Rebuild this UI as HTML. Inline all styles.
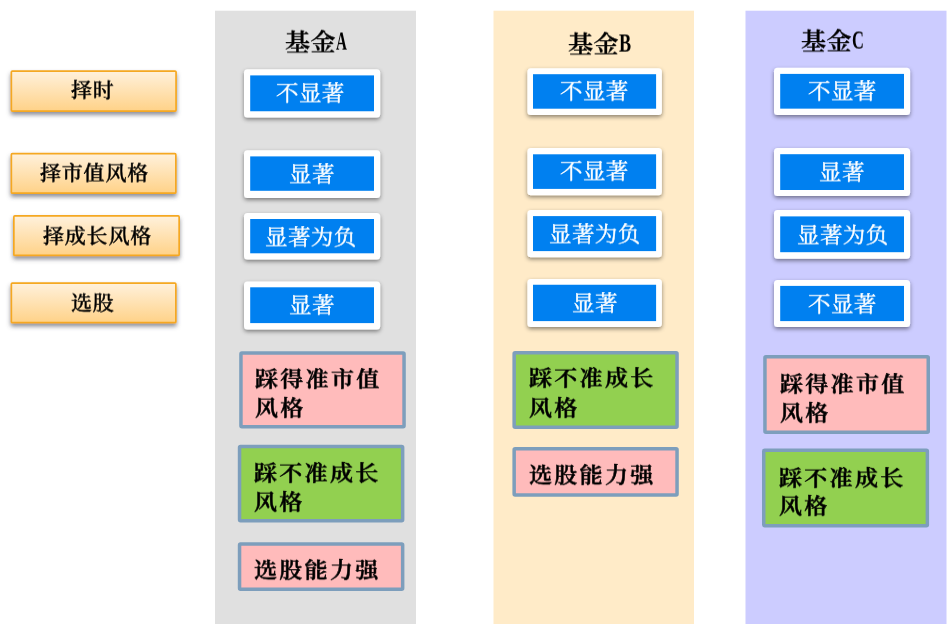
<!DOCTYPE html>
<html lang="zh-CN">
<head>
<meta charset="utf-8">
<title>基金能力对比</title>
<style>
html,body{margin:0;padding:0;background:#fff;}
body{width:948px;height:624px;position:relative;overflow:hidden;font-family:"Liberation Serif","Noto Serif CJK SC",serif;}
.shapes{position:absolute;left:0;top:0;display:block;}
.t{position:absolute;white-space:nowrap;line-height:1;color:#000;will-change:transform;}
.title{font-size:25px;font-weight:600;-webkit-text-stroke:.35px #000;letter-spacing:.4px;transform:scaleY(.95);}
.title .lt{display:inline-block;font-size:27.5px;font-weight:700;-webkit-text-stroke:0;position:relative;top:-1px;transform-origin:0 50%;font-family:"Liberation Serif",serif;vertical-align:baseline;}
.lt2{font-size:21px;font-weight:500;letter-spacing:.8px;-webkit-text-stroke:.45px #000;transform:scaleY(.95);}
.bt{font-size:22.5px;font-weight:400;color:#fff;letter-spacing:.4px;-webkit-text-stroke:.4px #fff;transform:scaleY(.93);}
.rt{font-size:23px;font-weight:600;letter-spacing:2.3px;-webkit-text-stroke:.55px #000;transform:scaleY(.93);}
</style>
</head>
<body>
<svg class="shapes" width="948" height="624" viewBox="0 0 948 624">
<defs>
<linearGradient id="og" x1="0" y1="0" x2="0" y2="1"><stop offset="0" stop-color="#fff1dc"/><stop offset="1" stop-color="#ffd288"/></linearGradient>
<filter id="s1" x="-10%" y="-30%" width="120%" height="180%"><feDropShadow dx="0" dy="3" stdDeviation="2.2" flood-color="#4b505c" flood-opacity=".62"/></filter>
<filter id="s2" x="-10%" y="-30%" width="120%" height="180%"><feDropShadow dx="0" dy="2" stdDeviation="2" flood-color="#000" flood-opacity=".45"/></filter>
</defs>
<rect x="215" y="10.7" width="201" height="620" fill="#e0e0e0"/>
<rect x="493.5" y="10.7" width="200.5" height="620" fill="#ffebc8"/>
<rect x="745.5" y="10.7" width="201" height="620" fill="#ccccff"/>
<rect x="11.35" y="71.05" width="164.70" height="40.00" rx="1" fill="url(#og)" stroke="#f5a822" stroke-width="1.7" filter="url(#s1)"/>
<rect x="11.35" y="153.65" width="164.50" height="39.50" rx="1" fill="url(#og)" stroke="#f5a822" stroke-width="1.7" filter="url(#s1)"/>
<rect x="13.85" y="215.95" width="165.30" height="39.50" rx="1" fill="url(#og)" stroke="#f5a822" stroke-width="1.7" filter="url(#s1)"/>
<rect x="11.35" y="283.05" width="164.50" height="39.60" rx="1" fill="url(#og)" stroke="#f5a822" stroke-width="1.7" filter="url(#s1)"/>
<rect x="244" y="69.2" width="136.20" height="48.40" rx="3.5" fill="#fff" filter="url(#s2)"/>
<rect x="250.2" y="75.4" width="123.80" height="35.85" fill="#0080f0"/>
<rect x="244" y="150.2" width="136.20" height="47.70" rx="3.5" fill="#fff" filter="url(#s2)"/>
<rect x="250.2" y="156.4" width="123.80" height="34.40" fill="#0080f0"/>
<rect x="244" y="212.9" width="136.20" height="46.70" rx="3.5" fill="#fff" filter="url(#s2)"/>
<rect x="250.2" y="219" width="123.80" height="34.30" fill="#0080f0"/>
<rect x="244" y="281.5" width="136.20" height="47.90" rx="3.5" fill="#fff" filter="url(#s2)"/>
<rect x="250.2" y="287.3" width="123.80" height="35.80" fill="#0080f0"/>
<rect x="527.4" y="68.2" width="134.50" height="46.70" rx="3.5" fill="#fff" filter="url(#s2)"/>
<rect x="533" y="74.2" width="123.10" height="34.50" fill="#0080f0"/>
<rect x="527.4" y="148" width="134.50" height="47.20" rx="3.5" fill="#fff" filter="url(#s2)"/>
<rect x="533" y="154.3" width="123.10" height="34.60" fill="#0080f0"/>
<rect x="527.4" y="210.1" width="134.50" height="47.10" rx="3.5" fill="#fff" filter="url(#s2)"/>
<rect x="533" y="216.1" width="123.10" height="35.00" fill="#0080f0"/>
<rect x="527.4" y="278.9" width="134.50" height="48.20" rx="3.5" fill="#fff" filter="url(#s2)"/>
<rect x="533" y="284.75" width="123.10" height="36.35" fill="#0080f0"/>
<rect x="774" y="67.85" width="136.10" height="47.05" rx="3.5" fill="#fff" filter="url(#s2)"/>
<rect x="780.2" y="73.9" width="123.80" height="34.75" fill="#0080f0"/>
<rect x="774" y="148.1" width="136.10" height="48.00" rx="3.5" fill="#fff" filter="url(#s2)"/>
<rect x="780.2" y="154.2" width="123.80" height="35.80" fill="#0080f0"/>
<rect x="774" y="210.1" width="136.10" height="48.60" rx="3.5" fill="#fff" filter="url(#s2)"/>
<rect x="780.2" y="216.4" width="123.80" height="35.80" fill="#0080f0"/>
<rect x="774" y="280" width="136.10" height="47.10" rx="3.5" fill="#fff" filter="url(#s2)"/>
<rect x="780.2" y="285.9" width="123.80" height="35.20" fill="#0080f0"/>
<rect x="240.95" y="353.05" width="163.10" height="73.80" rx="1" fill="#ffbbbb" stroke="#7d9ebc" stroke-width="3.5"/>
<rect x="239.55" y="446.45" width="163.10" height="74.30" rx="1" fill="#92d050" stroke="#7d9ebc" stroke-width="3.5"/>
<rect x="239.55" y="544.05" width="163.10" height="45.30" rx="1" fill="#ffbbbb" stroke="#7d9ebc" stroke-width="3.5"/>
<rect x="514.15" y="352.65" width="162.90" height="74.70" rx="1" fill="#92d050" stroke="#7d9ebc" stroke-width="3.5"/>
<rect x="514.15" y="448.85" width="162.90" height="46.10" rx="1" fill="#ffbbbb" stroke="#7d9ebc" stroke-width="3.5"/>
<rect x="764.95" y="356.75" width="163.30" height="75.40" rx="1" fill="#ffbbbb" stroke="#7d9ebc" stroke-width="3.5"/>
<rect x="763.75" y="450.25" width="163.60" height="75.60" rx="1" fill="#92d050" stroke="#7d9ebc" stroke-width="3.5"/>
</svg>
<div id="tA" class="t title" style="left:284.90px;top:27.80px">基金<span class="lt" style="transform:scaleX(0.55)">A</span></div>
<div id="tB" class="t title" style="left:568.10px;top:29.70px">基金<span class="lt" style="transform:scaleX(0.66)">B</span></div>
<div id="tC" class="t title" style="left:801.07px;top:27.10px">基金<span class="lt" style="transform:scaleX(0.6)">C</span></div>
<div id="l1" class="t lt2" style="left:71.20px;top:80.30px">择时</div>
<div id="l2" class="t lt2" style="left:39.70px;top:163.30px">择市值风格</div>
<div id="l3" class="t lt2" style="left:43.40px;top:225.60px">择成长风格</div>
<div id="l4" class="t lt2" style="left:70.80px;top:292.68px">选股</div>
<div id="A1" class="t bt" style="left:276.40px;top:83.07px">不显著</div>
<div id="A2" class="t bt" style="left:288.50px;top:164.20px">显著</div>
<div id="A3" class="t bt" style="left:264.95px;top:226.80px">显著为负</div>
<div id="A4" class="t bt" style="left:288.50px;top:295.07px">显著</div>
<div id="B1" class="t bt" style="left:559.80px;top:81.12px">不显著</div>
<div id="B2" class="t bt" style="left:559.80px;top:161.40px">不显著</div>
<div id="B3" class="t bt" style="left:548.80px;top:223.92px">显著为负</div>
<div id="B4" class="t bt" style="left:571.80px;top:293.30px">显著</div>
<div id="C1" class="t bt" style="left:807.90px;top:81.12px">不显著</div>
<div id="C2" class="t bt" style="left:818.70px;top:162.17px">显著</div>
<div id="C3" class="t bt" style="left:796.60px;top:224.60px">显著为负</div>
<div id="C4" class="t bt" style="left:807.90px;top:294.20px">不显著</div>
<div id="RA1_0" class="t rt" style="left:254.80px;top:368.10px">踩得准市值</div>
<div id="RA1_1" class="t rt" style="left:254.80px;top:396.88px">风格</div>
<div id="RA2_0" class="t rt" style="left:254.00px;top:461.90px">踩不准成长</div>
<div id="RA2_1" class="t rt" style="left:253.90px;top:491.00px">风格</div>
<div id="RA3_0" class="t rt" style="left:253.60px;top:559.40px">选股能力强</div>
<div id="RB1_0" class="t rt" style="left:529.00px;top:367.30px">踩不准成长</div>
<div id="RB1_1" class="t rt" style="left:528.90px;top:396.90px">风格</div>
<div id="RB2_0" class="t rt" style="left:529.10px;top:464.40px">选股能力强</div>
<div id="RC1_0" class="t rt" style="left:780.10px;top:372.90px">踩得准市值</div>
<div id="RC1_1" class="t rt" style="left:780.10px;top:401.50px">风格</div>
<div id="RC2_0" class="t rt" style="left:779.00px;top:466.80px">踩不准成长</div>
<div id="RC2_1" class="t rt" style="left:778.60px;top:495.12px">风格</div>
</body>
</html>
